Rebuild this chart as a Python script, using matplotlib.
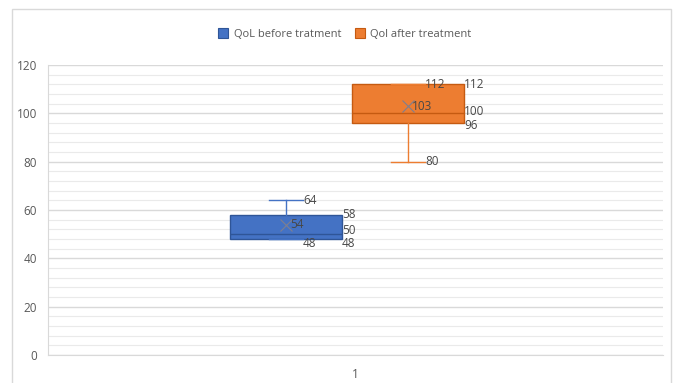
import matplotlib.pyplot as plt
from matplotlib.patches import Rectangle, Patch

# QoL scores, before and after treatment
series = ["QoL before tratment", "Qol after treatment"]
q1 = [48, 96]
median = [50, 100]
q3 = [58, 112]
mean = [54, 103]
whis_lo = [48, 80]
whis_hi = [64, 112]

positions = [0.774, 1.171]
box_w = 0.364
cap_w = 0.11
face = ["#4472C4", "#ED7D31"]
edge = ["#2F5597", "#C55A11"]
txt = "#595959"
lbl = "#474747"

plt.rcParams['font.family'] = ['Open Sans', 'DejaVu Sans']

fig = plt.figure(figsize=(6.77, 3.83), dpi=100)
ax = fig.add_axes([48 / 677, 28 / 383, 615 / 677, 290 / 383])

# outer chart frame
fig.patches.append(Rectangle((12 / 677, -0.05), 659 / 677, 1.05 - 9 / 383,
                             transform=fig.transFigure, fill=False,
                             edgecolor="#D9D9D9", lw=1))

for i in range(2):
    stats = [dict(med=median[i], q1=q1[i], q3=q3[i], whislo=whis_lo[i],
                  whishi=whis_hi[i], mean=mean[i], fliers=[])]
    ax.bxp(stats, positions=[positions[i]], widths=box_w, capwidths=cap_w,
           showmeans=True, patch_artist=True,
           boxprops=dict(facecolor=face[i], edgecolor=edge[i], lw=1),
           medianprops=dict(color=edge[i], lw=1),
           whiskerprops=dict(color=face[i], lw=1),
           capprops=dict(color=face[i], lw=1),
           meanprops=dict(marker="x", markeredgecolor="#7F7F8F",
                          markersize=8, markeredgewidth=0.8), zorder=3)

    # value labels; nudge labels apart where values sit close together
    cx = positions[i]
    right = cx + box_w / 2
    cap_r = cx + cap_w / 2
    span = median[i] - q1[i]
    up = 1.4 if span <= 2 else (0.6 if span <= 4 else 0)
    down = 2.0 if span <= 2 else (0.9 if span <= 4 else 0)
    low = 2.0 if whis_lo[i] == q1[i] else 0
    kw = dict(fontsize=8.5, color=lbl, va="center", ha="left", zorder=4)
    ax.text(cap_r, whis_hi[i], str(whis_hi[i]), **kw)
    ax.text(cap_r, whis_lo[i] - low, str(whis_lo[i]), **kw)
    ax.text(right, q3[i], str(q3[i]), **kw)
    ax.text(right, median[i] + up, str(median[i]), **kw)
    ax.text(right, q1[i] - down, str(q1[i]), **kw)
    ax.text(cx + 0.012, mean[i], str(mean[i]), **kw)

ax.set_xlim(0, 2)
ax.set_ylim(0, 120)
ax.set_xticks([1], ["1"])
ax.set_yticks(range(0, 121, 20))
ax.set_yticks(range(0, 121, 4), minor=True)
ax.tick_params(axis="both", which="both", length=0, labelsize=8.5, labelcolor=txt)
ax.tick_params(axis="y", pad=8)
ax.tick_params(axis="x", pad=9)
ax.grid(axis="y", which="major", color="#D9D9D9", lw=1, zorder=0)
ax.grid(axis="y", which="minor", color="#EAEAEA", lw=0.8, zorder=0)
ax.set_axisbelow(True)
for s in ["top", "right"]:
    ax.spines[s].set_visible(False)
ax.spines["left"].set_color("#D9D9D9")
ax.spines["bottom"].set_color("#D9D9D9")

handles = [Patch(facecolor=face[i], edgecolor=edge[i], lw=0.8) for i in range(2)]
fig.legend(handles, series, loc="center", bbox_to_anchor=(345 / 677, 1 - 34 / 383),
           ncol=2, frameon=False, fontsize=8, labelcolor=txt,
           handlelength=0.9, handleheight=0.9, handletextpad=0.5, columnspacing=1.2)

fig.savefig("out.png", dpi=100)
